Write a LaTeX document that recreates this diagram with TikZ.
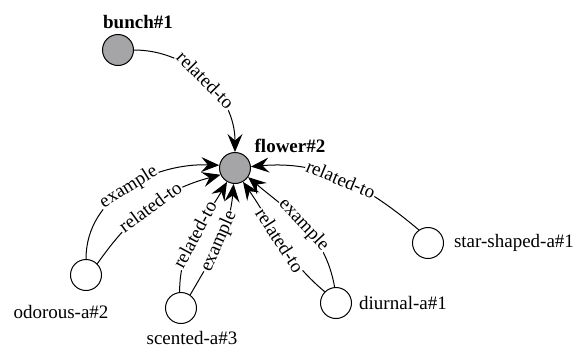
\documentclass[tikz,border=0pt]{standalone}
\usepackage{fontspec}
\setmainfont{Liberation Serif}
\usetikzlibrary{arrows.meta}
\definecolor{synsetgray}{RGB}{165,165,168}
\begin{document}
\begin{tikzpicture}[x=1pt,y=-1pt,
  every node/.style={font=\fontsize{19}{22}\selectfont},
  synset/.style={circle,draw,line width=1pt,minimum size=31pt,inner sep=0pt},
  hub/.style={synset,fill=synsetgray},
  leaf/.style={synset,fill=white},
  rel/.style={line width=1pt,-{Stealth[length=18pt,width=15pt,inset=6.5pt]}},
  lbl/.style={sloped,fill=white,inner sep=1pt,pos=0.5},
  nm/.style={inner sep=0pt}]
\useasboundingbox (0,0) rectangle (581,349);

% synset nodes
\node[hub]  (bunch)  at (118,50)  {};
\node[hub]  (flower) at (235,168) {};
\node[leaf] (odor)   at (86,275)  {};
\node[leaf] (scent)  at (181,308) {};
\node[leaf] (diurn)  at (336,303) {};
\node[leaf] (star)   at (428,243) {};

% names
\node[nm,font=\fontsize{19}{22}\selectfont\bfseries] (tbunch)  at (138,22)  {bunch\#1};
\node[nm,font=\fontsize{19}{22}\selectfont\bfseries] (tflower) at (290,146) {flower\#2};
\node[nm] (todor)  at (61,312)  {odorous-a\#2};
\node[nm] (tscent) at (192,338) {scented-a\#3};
\node[nm] (tdiurn) at (403,303) {diurnal-a\#1};
\node[nm] (tstar)  at (514,243) {star-shaped-a\#1};

% relations
\draw[rel] (bunch.east) to[out=0,in=90] node[lbl] {related-to} (flower.north);
\draw[rel] (odor.north) to[out=90,in=178] node[lbl] {example} (flower.170);
\draw[rel] (odor.45) to[out=55,in=195] node[lbl] {related-to} (flower.205);
\draw[rel] (scent.95) to[out=90,in=240] node[lbl] {related-to} (flower.240);
\draw[rel] (scent.55) to[out=60,in=265] node[lbl] {example} (flower.265);
\draw[rel] (diurn.135) to[out=140,in=-55] node[lbl] {related-to} (flower.300);
\draw[rel] (diurn.95) to[out=100,in=-40] node[lbl] {example} (flower.325);
\draw[rel] (star.125) to[out=140,in=5] node[lbl] {related-to} (flower.5);
\end{tikzpicture}
\end{document}
